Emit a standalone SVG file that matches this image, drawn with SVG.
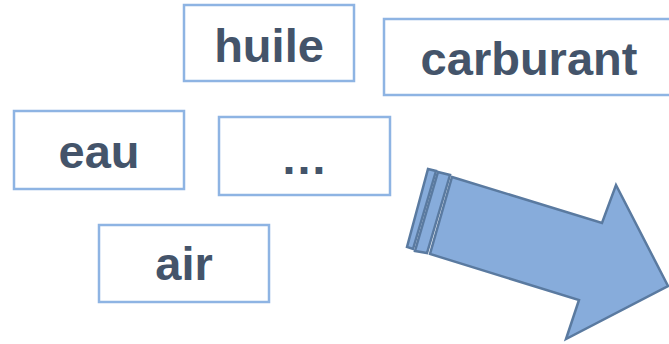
<svg xmlns="http://www.w3.org/2000/svg" width="669" height="344" viewBox="0 0 669 344">
<style>
.box{fill:#ffffff;stroke:#8EB4E3;stroke-width:2.5}
.lbl{font-family:"Liberation Sans",Arial,sans-serif;font-weight:bold;font-size:47px;fill:#44546A;text-anchor:middle}
.arr{fill:#87ACDB;stroke:#5A7AA0;stroke-width:2.5;stroke-linejoin:miter}
</style>
<rect width="669" height="344" fill="#ffffff"/>
<g id="huile"><rect class="box" x="184" y="5" width="170" height="76"/><text class="lbl" x="269" y="62">huile</text></g>
<g id="carburant"><rect class="box" x="384" y="19" width="290" height="76"/><text class="lbl" x="529" y="75">carburant</text></g>
<g id="eau"><rect class="box" x="14" y="111" width="170" height="78"/><text class="lbl" x="99" y="168">eau</text></g>
<g id="etc"><rect class="box" x="219" y="117" width="171" height="78"/><text class="lbl" x="304" y="174">…</text></g>
<g id="air"><rect class="box" x="99" y="225" width="170" height="77"/><text class="lbl" x="184" y="280">air</text></g>
<g id="connectors">
<polygon class="arr" points="428,169 436,171 413,249 407,247"/>
<polygon class="arr" points="438,172 450,175 427,253 415,251"/>
<polygon class="arr" points="452,177 602,223 616,185 668,286 566,339 579,300 430,254"/>
</g>
</svg>
